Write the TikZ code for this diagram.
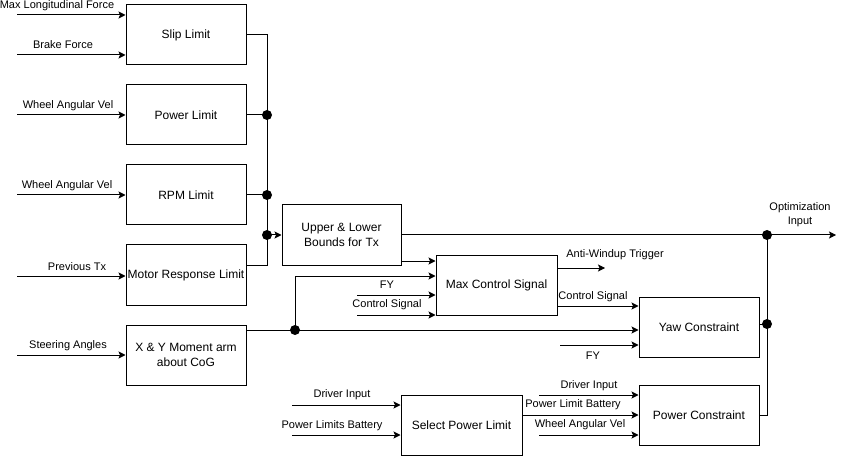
\documentclass[tikz,border=0pt]{standalone}
\usepackage{fontspec}
\setmainfont{Liberation Sans}
\usetikzlibrary{arrows.meta}
\begin{document}
\begin{tikzpicture}[x=1pt,y=-1pt,
 blk/.style={draw,line width=1pt,minimum width=120pt,minimum height=60pt,inner sep=1pt,align=center,font=\fontsize{12}{15}\selectfont},
 lbl/.style={inner sep=0pt,font=\fontsize{11}{14}\selectfont,align=center},
 wire/.style={line width=1pt},
 arr/.style={wire,-{Stealth[length=7pt,width=7pt,inset=1.5pt]}},
 dot/.style={circle,fill,inner sep=0pt,minimum size=10pt}]
\useasboundingbox (0,0) rectangle (846,457);
% blocks
\node[blk] (slip) at (186,35) {Slip Limit};
\node[blk] (powl) at (186,115) {Power Limit};
\node[blk] (rpm) at (186,195) {RPM Limit};
\node[blk] (motor) at (186,275) {Motor Response Limit};
\node[blk] (moment) at (186,355) {X \& Y Moment arm\\about CoG};
\node[blk,minimum width=119pt] (bounds) at (341.5,235) {Upper \& Lower\\Bounds for Tx};
\node[blk,minimum width=121pt] (maxc) at (496.5,285) {Max Control Signal};
\node[blk] (yaw) at (699,327) {Yaw Constraint};
\node[blk,minimum width=121pt] (sel) at (461.5,425) {Select Power Limit};
\node[blk] (pc) at (699,415) {Power Constraint};
% left inputs
\coordinate (i1) at (17,15);
\coordinate (i2) at (17,55);
\coordinate (i3) at (17,115);
\coordinate (i4) at (17,195);
\coordinate (i5) at (17,276);
\coordinate (i6) at (17,355);
\draw[arr] (i1) -- (i1 -| slip.west);
\draw[arr] (i2) -- (i2 -| slip.west);
\draw[arr] (i3) -- (i3 -| powl.west);
\draw[arr] (i4) -- (i4 -| rpm.west);
\draw[arr] (i5) -- (i5 -| motor.west);
\draw[arr] (i6) -- (i6 -| moment.west);
\node[lbl] (l1) at (57,6) {Max Longitudinal Force};
\node[lbl] (l2) at (63,45) {Brake Force};
\node[lbl] (l3) at (68,106) {Wheel Angular Vel};
\node[lbl] (l4) at (67,186) {Wheel Angular Vel};
\node[lbl] (l5) at (77,267) {Previous Tx};
\node[lbl] (l6) at (68,346) {Steering Angles};
% bus
\node[dot] (d1) at (267,115) {};
\node[dot] (d2) at (267,195) {};
\node[dot] (d3) at (267,235) {};
\coordinate (bm) at (267,265);
\draw[wire] (slip.east) -| (d3.center);
\draw[wire] (powl.east) -- (d1.center);
\draw[wire] (rpm.east) -- (d2.center);
\draw[wire] (motor.east |- bm) -- (bm) -- (d3.center);
\draw[arr] (d3.center) -- (bounds.west);
% optimization output
\node[dot] (d4) at (767,235) {};
\coordinate (out) at (836,235);
\draw[arr] (bounds.east) -- (out);
\node[lbl] (optl) at (800,215) {Optimization\\Input};
% bounds to max control
\coordinate (bb) at (401,261);
\draw[arr] (bb) -- (bb -| maxc.west);
% moment arm output
\node[dot] (d5) at (295,330) {};
\draw[wire] (moment.east |- d5) -- (d5.center);
\draw[arr] (d5.center) -- (yaw.west |- d5);
\coordinate (c1) at (295,276);
\draw[arr] (d5.center) -- (c1) -- (c1 -| maxc.west);
\coordinate (fy1) at (357,295);
\coordinate (cs1) at (357,315);
\draw[arr] (fy1) -- (fy1 -| maxc.west);
\draw[arr] (cs1) -- (cs1 -| maxc.west);
\node[lbl] (lfy1) at (387,285) {FY};
\node[lbl] (lcs1) at (387,305) {Control Signal};
% max control outputs
\coordinate (aw) at (605,268);
\draw[arr] (maxc.east |- aw) -- (aw);
\node[lbl] (law) at (615,255) {Anti-Windup Trigger};
\coordinate (cs2) at (557,306);
\draw[arr] (cs2) -- (cs2 -| yaw.west);
\node[lbl] (lcs2) at (593,297) {Control Signal};
\coordinate (fy2) at (560,345);
\draw[arr] (fy2) -- (fy2 -| yaw.west);
\node[lbl] (lfy2) at (593,356) {FY};
% yaw & power constraint outputs
\node[dot] (d6) at (767,324) {};
\draw[wire] (yaw.east |- d6) -- (d6.center);
\draw[wire] (pc.east) -| (d4.center);
% select power limit
\coordinate (di1) at (292,405);
\coordinate (pb1) at (292,435);
\draw[arr] (di1) -- (di1 -| sel.west);
\draw[arr] (pb1) -- (pb1 -| sel.west);
\node[lbl] (ldi1) at (342,395) {Driver Input};
\node[lbl] (lpb1) at (332,426) {Power Limits Battery};
\draw[arr] (sel.east |- pc.west) -- (pc.west);
\coordinate (di2) at (539,395);
\coordinate (wv) at (539,435);
\draw[arr] (di2) -- (di2 -| pc.west);
\draw[arr] (wv) -- (wv -| pc.west);
\node[lbl] (ldi2) at (589,386) {Driver Input};
\node[lbl] (lpb2) at (573,405) {Power Limit Battery};
\node[lbl] (lwv) at (580,425) {Wheel Angular Vel};
\end{tikzpicture}
\end{document}
